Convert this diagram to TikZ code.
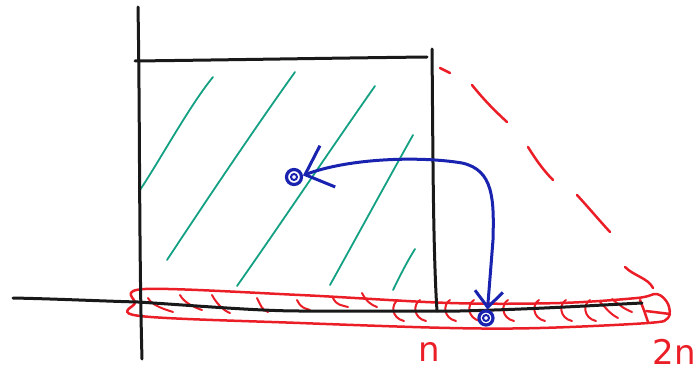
\documentclass[tikz,border=0pt]{standalone}
\usepackage{fontspec}
\setmainfont{DejaVu Sans}
\usetikzlibrary{arrows.meta}
\definecolor{ink}{RGB}{25,25,25}
\definecolor{tealpen}{RGB}{20,160,130}
\definecolor{redpen}{RGB}{235,30,40}
\definecolor{bluepen}{RGB}{25,35,175}
\tikzset{
  axisline/.style={draw=ink,line width=3pt,line cap=round,line join=round},
  hatchline/.style={draw=tealpen,line width=1.8pt,line cap=round},
  redline/.style={draw=redpen,line width=2.5pt,line cap=round,line join=round},
  tickline/.style={draw=redpen,line width=2pt,line cap=round},
  bluedot/.style={circle,draw=bluepen,line width=3.2pt,minimum size=15pt,inner sep=0pt},
  bluearrow/.style={draw=bluepen,line width=3pt,line cap=round,
    {Straight Barb[length=24pt,width=44pt]}-{Straight Barb[length=16pt,width=28pt]}},
  lbl/.style={text=redpen,font=\fontsize{34}{34}\selectfont,inner sep=0pt}
}
\begin{document}
\begin{tikzpicture}[x=1pt,y=-1pt]
\useasboundingbox (0,0) rectangle (700,377);
% teal hatching
\draw[hatchline] (213,77) .. controls (190,105) and (160,160) .. (140,190);
\draw[hatchline] (295,72) .. controls (250,135) and (200,210) .. (167,260);
\draw[hatchline] (375,86) .. controls (330,150) and (280,225) .. (237,286);
\draw[hatchline] (413,135) .. controls (385,185) and (355,240) .. (330,285);
\draw[hatchline] (415,249) .. controls (405,265) and (398,280) .. (393,290);
% red band
\draw[redline] plot[smooth cycle,tension=0.55] coordinates {
  (145,289) (300,295) (450,303) (560,303) (637,298) (657,294) (668,304)
  (668,318) (648,323) (540,328) (450,328) (300,323) (140,316) (135,303)};
\draw[redline] (640,300) .. controls (644,310) and (646,316) .. (648,322);
\draw[redline] (646,311) -- (670,314);
% red ticks in the band
\foreach \xa/\ya/\xb/\yb in {148/298/173/312, 180/295/202/310, 212/295/230/313,
  257/298/268/312, 297/300/310/310, 333/298/348/307, 362/293/377/307}
  \draw[tickline] (\xa,\ya) .. controls (\xa+4,\ya+8) and (\xb-6,\yb-2) .. (\xb,\yb);
\foreach \xa in {392,414,444,468,502,533,560,584}
  \draw[tickline] (\xa+6,300) .. controls (\xa-1,304) and (\xa-1,318) .. (\xa+12,321);
\draw[tickline] (600,302) .. controls (606,308) and (610,314) .. (618,318);
\draw[tickline] (612,299) .. controls (618,304) and (624,309) .. (632,312);
% red dashed slope
\draw[redline] (440,68) -- (450,73);
\draw[redline] (472,85) .. controls (484,100) and (495,111) .. (507,122);
\draw[redline] (528,147) .. controls (536,160) and (544,171) .. (553,180);
\draw[redline] (577,195) .. controls (588,207) and (599,220) .. (610,232);
\draw[redline] (625,267) .. controls (634,276) and (648,278) .. (653,288);
% black axes and box
\draw[axisline] (138,7) .. controls (140,120) and (139,250) .. (142,359);
\draw[axisline] (13,298) .. controls (60,299) and (100,301) .. (138,302)
  .. controls (200,306) and (260,311) .. (300,311)
  .. controls (380,311) and (420,311) .. (460,311)
  .. controls (540,309) and (600,305) .. (642,303);
\draw[axisline] (135,61) .. controls (220,60) and (340,58) .. (427,57);
\draw[axisline] (432,49) .. controls (433,150) and (433,250) .. (437,311);
% labels
\node[lbl] (n) at (429,352) {n};
\node[lbl] (twon) at (674,352) {2n};
% blue arrow between dots
\node[bluedot] (d1) at (294,177) {};
\node[bluedot,minimum size=14pt] (d2) at (486,318) {};
\draw[draw=bluepen,line width=2pt] (d1.center) circle[radius=3pt];
\draw[draw=bluepen,line width=2pt] (d2.center) circle[radius=3pt];
\draw[bluearrow] (d1.10) .. controls (350,158) and (420,156) .. (462,163)
  .. controls (494,170) and (494,200) .. (493,240) -- (d2.80);
\end{tikzpicture}
\end{document}
